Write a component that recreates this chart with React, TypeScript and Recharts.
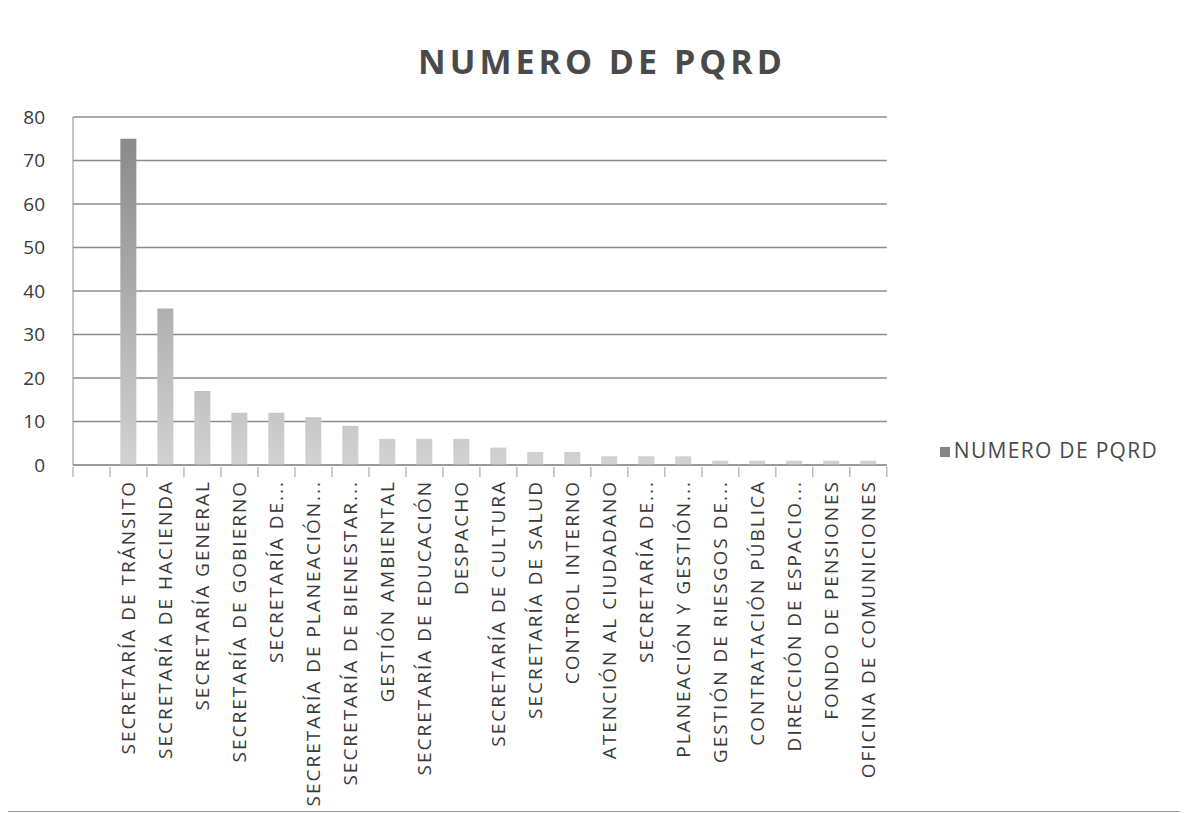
import React from 'react';
import { BarChart, Bar, XAxis, YAxis, CartesianGrid, Legend } from 'recharts';

// categories as printed on the chart (first slot is empty in the original)
const categories = [
  '',
  'SECRETARÍA DE TRÁNSITO',
  'SECRETARÍA DE HACIENDA',
  'SECRETARÍA GENERAL',
  'SECRETARÍA DE GOBIERNO',
  'SECRETARÍA DE...',
  'SECRETARÍA DE PLANEACIÓN...',
  'SECRETARÍA DE BIENESTAR...',
  'GESTIÓN AMBIENTAL',
  'SECRETARÍA DE EDUCACIÓN',
  'DESPACHO',
  'SECRETARÍA DE CULTURA',
  'SECRETARÍA DE SALUD',
  'CONTROL INTERNO',
  'ATENCIÓN AL CIUDADANO',
  'SECRETARÍA DE...',
  'PLANEACIÓN Y GESTIÓN...',
  'GESTIÓN DE RIESGOS DE...',
  'CONTRATACIÓN PÚBLICA',
  'DIRECCIÓN DE ESPACIO...',
  'FONDO DE PENSIONES',
  'OFICINA DE COMUNICIONES',
];

const pqrd = [null, 75, 36, 17, 12, 12, 11, 9, 6, 6, 6, 4, 3, 3, 2, 2, 2, 1, 1, 1, 1, 1];

const yTicks = [0, 10, 20, 30, 40, 50, 60, 70, 80];

const SERIES = 'NUMERO DE PQRD';

const data = categories.map((c, i) => ({ key: i, name: c, value: pqrd[i] }));

const FONT = '"Open Sans", "Liberation Sans", sans-serif';

const W = 1180;
const H = 805;
const LEFT = 65;
const RIGHT = 73;
const PLOT_W = 814;
const BAND = PLOT_W / categories.length;

const CategoryTick = (props: any) => {
  const { x, y, payload } = props;
  const label = categories[payload.value] ?? '';
  const ty = y + 5;
  const edge = x - BAND / 2;
  return (
    <g>
      <line x1={edge} x2={edge} y1={y - 8} y2={y + 2} stroke="#9a9a9a" />
      {payload.value === categories.length - 1 && (
        <line x1={edge + BAND} x2={edge + BAND} y1={y - 8} y2={y + 2} stroke="#9a9a9a" />
      )}
      <text
        x={x}
        y={ty}
        transform={`rotate(-90, ${x}, ${ty})`}
        textAnchor="end"
        dominantBaseline="central"
        fontSize={19}
        letterSpacing={2}
        fontFamily={FONT}
        fill="#3a3a3a"
      >
        {label}
      </text>
    </g>
  );
};

export default function App() {
  return (
    <div style={{ position: 'relative', width: W, height: H, fontFamily: FONT }}>
      <div
        style={{
          position: 'absolute',
          left: -2,
          top: -2,
          width: 1200,
          height: 806,
          border: '1px solid #999',
          boxSizing: 'border-box',
        }}
      />
      <div
        style={{
          position: 'absolute',
          left: 0,
          width: W,
          top: 30,
          textAlign: 'center',
          fontSize: 34,
          fontWeight: 700,
          color: '#4a4a4a',
          letterSpacing: 4,
          paddingLeft: 4,
        }}
      >
        NUMERO DE PQRD
      </div>
      <BarChart
        width={W}
        height={H}
        data={data}
        margin={{ top: 109, right: RIGHT, bottom: 0, left: 0 }}
        barCategoryGap="28%"
      >
        <defs>
          <linearGradient id="barFill" gradientUnits="userSpaceOnUse" x1="0" y1="109" x2="0" y2="457">
            <stop offset="0%" stopColor="#858585" />
            <stop offset="55%" stopColor="#b0b0b0" />
            <stop offset="100%" stopColor="#d2d2d2" />
          </linearGradient>
        </defs>
        <CartesianGrid vertical={false} stroke="#8c8c8c" strokeWidth={1.3} />
        <XAxis
          dataKey="key"
          type="category"
          interval={0}
          height={348}
          tick={<CategoryTick />}
          tickLine={false}
          axisLine={{ stroke: '#8c8c8c' }}
          tickSize={8}
        />
        <YAxis
          domain={[0, 80]}
          ticks={yTicks}
          width={LEFT}
          tick={{ fontSize: 19, fill: '#3a3a3a', fontFamily: FONT }}
          tickLine={false}
          axisLine={{ stroke: '#8c8c8c' }}
          tickMargin={22}
        />
        <Legend
          layout="vertical"
          align="right"
          verticalAlign="top"
          iconType="square"
          iconSize={10}
          wrapperStyle={{ top: 428, right: 20, fontSize: 21, letterSpacing: 1.3, fontFamily: FONT }}
          formatter={(v: string) => <span style={{ color: '#4a4a4a' }}>{v}</span>}
        />
        <Bar
          dataKey="value"
          name={SERIES}
          fill="url(#barFill)"
          legendType="square"
          isAnimationActive={false}
        />
      </BarChart>
    </div>
  );
}
